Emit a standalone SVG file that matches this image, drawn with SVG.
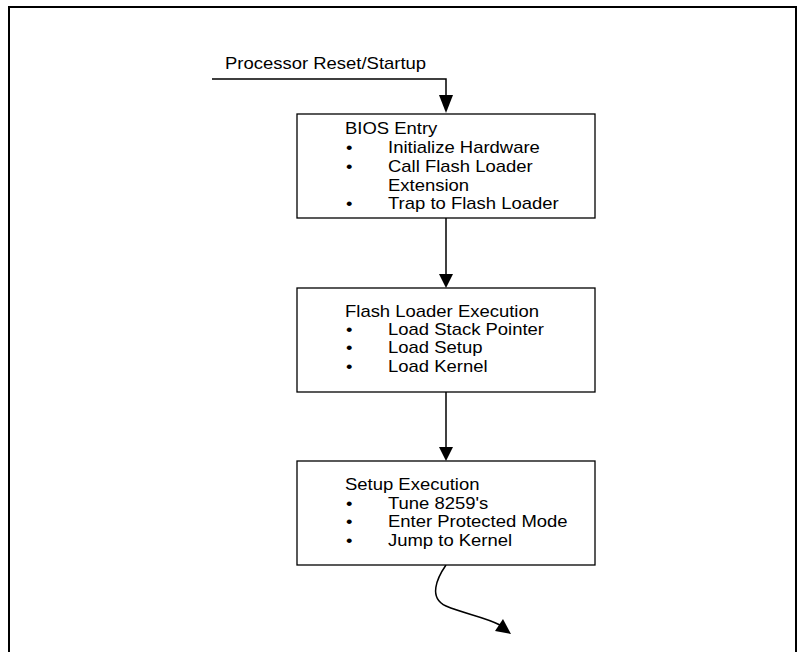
<svg xmlns="http://www.w3.org/2000/svg" width="798" height="652" viewBox="0 0 798 652">
<style>
.t{font-family:"Liberation Sans",Arial,sans-serif;font-size:16px;fill:#000}
.box{fill:#fff;stroke:#000;stroke-width:1.3}
.ln{fill:none;stroke:#000;stroke-width:1.5}
.ah{fill:#000;stroke:none}
</style>
<rect width="798" height="652" fill="#fff"/>
<path d="M9,660 V7 H796 V660" fill="none" stroke="#000" stroke-width="2"/>
<g id="start">
<text class="t" transform="translate(225 69) scale(1.155 1)">Processor Reset/Startup</text>
</g>
<g id="connectors">
<path class="ln" d="M212,79 H446 V97"/>
<polygon class="ah" points="439,95 453,95 446,113"/>
<path class="ln" d="M446,218 V276"/>
<polygon class="ah" points="439,274 453,274 446,288"/>
<path class="ln" d="M446,392 V449"/>
<polygon class="ah" points="439,447 453,447 446,461"/>
<path class="ln" d="M446,565 C437,578 428,598 446,606 C465,614 485,617 500,625"/>
<polygon class="ah" points="511,634 495,631 503,619"/>
</g>
<g id="bios">
<rect class="box" x="297" y="114" width="298" height="104"/>
<text class="t" transform="translate(345 134) scale(1.155 1)">BIOS Entry</text>
<text class="t" transform="translate(346 153) scale(1.155 1)">•</text>
<text class="t" transform="translate(388 153) scale(1.155 1)">Initialize Hardware</text>
<text class="t" transform="translate(346 172) scale(1.155 1)">•</text>
<text class="t" transform="translate(388 172) scale(1.155 1)">Call Flash Loader</text>
<text class="t" transform="translate(388 191) scale(1.155 1)">Extension</text>
<text class="t" transform="translate(346 209) scale(1.155 1)">•</text>
<text class="t" transform="translate(388 209) scale(1.155 1)">Trap to Flash Loader</text>
</g>
<g id="flash">
<rect class="box" x="297" y="288" width="298" height="104"/>
<text class="t" transform="translate(345 317) scale(1.155 1)">Flash Loader Execution</text>
<text class="t" transform="translate(346 335) scale(1.155 1)">•</text>
<text class="t" transform="translate(388 335) scale(1.155 1)">Load Stack Pointer</text>
<text class="t" transform="translate(346 353) scale(1.155 1)">•</text>
<text class="t" transform="translate(388 353) scale(1.155 1)">Load Setup</text>
<text class="t" transform="translate(346 372) scale(1.155 1)">•</text>
<text class="t" transform="translate(388 372) scale(1.155 1)">Load Kernel</text>
</g>
<g id="setup">
<rect class="box" x="297" y="461" width="298" height="104"/>
<text class="t" transform="translate(345 490) scale(1.155 1)">Setup Execution</text>
<text class="t" transform="translate(346 509) scale(1.155 1)">•</text>
<text class="t" transform="translate(388 509) scale(1.155 1)">Tune 8259's</text>
<text class="t" transform="translate(346 527) scale(1.155 1)">•</text>
<text class="t" transform="translate(388 527) scale(1.155 1)">Enter Protected Mode</text>
<text class="t" transform="translate(346 546) scale(1.155 1)">•</text>
<text class="t" transform="translate(388 546) scale(1.155 1)">Jump to Kernel</text>
</g>
</svg>
